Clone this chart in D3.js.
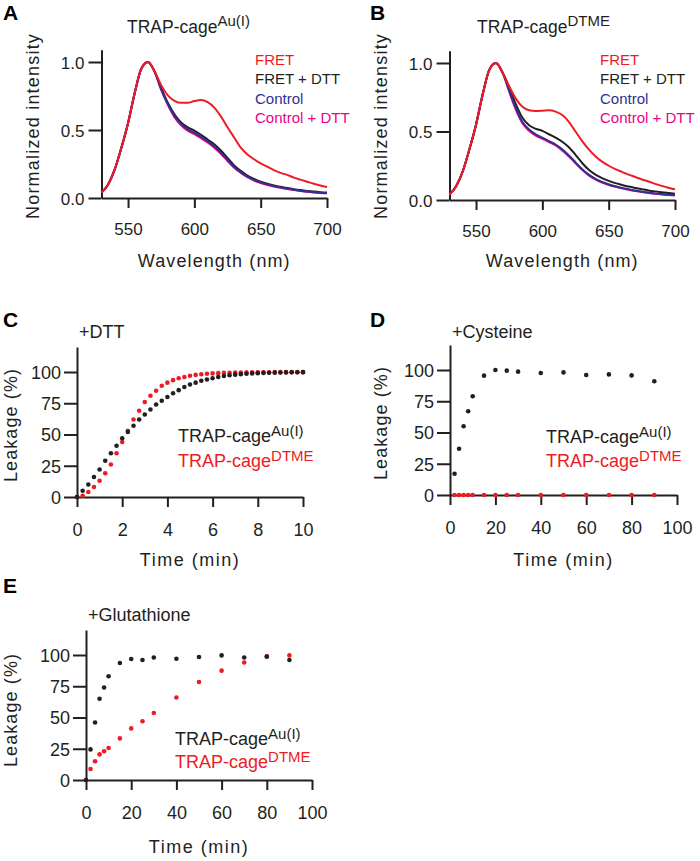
<!DOCTYPE html>
<html><head><meta charset="utf-8">
<script src="https://cdn.jsdelivr.net/npm/d3@7"></script>
<style>body{margin:0;background:#fff}</style>
</head><body><svg id="c" width="700" height="861"></svg>
<script>
// ---------------- DATA ----------------
const wavelengths = [530,535,540,545,550,555,560,565,570,575,580,585,590,595,600,605,610,615,620,625,630,635,640,645,650,655,660,665,670,675,680,685,690,695,700];

const specA_FRET      = [0.04,0.10,0.21,0.37,0.55,0.77,0.95,1.00,0.93,0.83,0.755,0.715,0.70,0.70,0.713,0.72,0.705,0.665,0.60,0.52,0.445,0.37,0.32,0.285,0.255,0.23,0.205,0.185,0.17,0.15,0.135,0.12,0.105,0.092,0.08];
const specA_FRETDTT   = [0.04,0.10,0.21,0.37,0.55,0.77,0.95,1.00,0.93,0.81,0.70,0.615,0.555,0.52,0.495,0.465,0.43,0.395,0.35,0.295,0.24,0.20,0.165,0.14,0.12,0.105,0.092,0.082,0.073,0.065,0.058,0.052,0.047,0.043,0.04];
const specA_Control   = [0.04,0.10,0.21,0.37,0.55,0.77,0.95,1.00,0.93,0.80,0.69,0.605,0.545,0.505,0.48,0.45,0.418,0.38,0.335,0.28,0.228,0.19,0.158,0.133,0.115,0.10,0.088,0.078,0.069,0.061,0.054,0.048,0.043,0.039,0.036];
const specA_ControlDTT= [0.04,0.10,0.21,0.37,0.55,0.77,0.95,1.00,0.93,0.795,0.685,0.595,0.535,0.495,0.47,0.44,0.408,0.37,0.325,0.272,0.222,0.185,0.153,0.128,0.11,0.096,0.085,0.075,0.066,0.058,0.051,0.046,0.041,0.037,0.034];

const specB_FRET      = [0.04,0.10,0.21,0.37,0.55,0.77,0.95,1.00,0.93,0.83,0.74,0.68,0.655,0.65,0.652,0.655,0.645,0.62,0.57,0.50,0.43,0.37,0.32,0.28,0.25,0.225,0.205,0.185,0.168,0.15,0.135,0.118,0.103,0.09,0.078];
const specB_FRETDTT   = [0.04,0.10,0.21,0.37,0.55,0.77,0.95,1.00,0.93,0.82,0.70,0.60,0.545,0.52,0.505,0.48,0.455,0.425,0.385,0.33,0.27,0.22,0.185,0.16,0.14,0.123,0.11,0.098,0.088,0.079,0.07,0.063,0.057,0.051,0.046];
const specB_Control   = [0.04,0.10,0.21,0.37,0.55,0.77,0.95,1.00,0.93,0.80,0.67,0.57,0.515,0.48,0.455,0.43,0.405,0.37,0.325,0.275,0.225,0.185,0.155,0.132,0.115,0.10,0.088,0.078,0.069,0.061,0.054,0.048,0.043,0.039,0.036];
const specB_ControlDTT= [0.04,0.10,0.21,0.37,0.55,0.77,0.95,1.00,0.93,0.79,0.66,0.56,0.505,0.47,0.448,0.423,0.398,0.362,0.318,0.268,0.22,0.18,0.15,0.127,0.11,0.096,0.085,0.075,0.066,0.058,0.051,0.045,0.04,0.036,0.032];

const spectrumLabels = ["FRET","FRET + DTT","Control","Control + DTT"];
const spectrumXTicks = [550,600,650,700];
const spectrumYTicks = [0,0.5,1.0];

// Panel C: +DTT
const dttTime = [0,0.25,0.5,0.75,1,1.25,1.5,1.75,2,2.25,2.5,2.75,3,3.25,3.5,3.75,4,4.25,4.5,4.75,5,5.25,5.5,5.75,6,6.25,6.5,6.75,7,7.25,7.5,7.75,8,8.25,8.5,8.75,9,9.25,9.5,9.75,10];
const dttAu   = [0,5,10,16,22,29,35,41,47,52,57,62,66,70,74,77,80,83,85.5,88,90,91.5,93,94,95,96,96.8,97.4,97.9,98.3,98.6,98.9,99.1,99.3,99.4,99.5,99.6,99.7,99.8,99.8,99.9];
const dttDTME = [0,1,4,8,13,19,26,35,44,53,62,69,76,81,85,89,91.5,93.5,95,96,97,97.7,98.2,98.6,98.9,99.1,99.3,99.4,99.5,99.6,99.7,99.7,99.8,99.8,99.8,99.9,99.9,99.9,99.9,99.9,99.9];

// Panel D: +Cysteine
const cysTime = [2,4,6,8,10,15,20,25,30,40,50,60,70,80,90];
const cysAu   = [17,37,55,67,79,95.5,100,99.5,98.7,97.6,98.1,96,96.5,95.7,91];
const cysDTME = [0,0,0,0,0,0,0,0,0,0,0,0,0,0,0];

// Panel E: +Glutathione
const gshTime = [0,2,4,6,8,10,15,20,25,30,40,50,60,70,80,90];
const gshAu   = [0,24.5,46,65,74,83,93.6,96.8,96,98,97,98.4,99.7,98,98.7,96];
const gshDTME = [0,8.8,15,20.5,23,25.6,33.3,41.3,47,53.6,66,78.4,87.5,94,99,99.7];

const leakYTicks = [0,25,50,75,100];
const dttXTicks = [0,2,4,6,8,10];
const longXTicks = [0,20,40,60,80,100];

// ---------------- DRAWING ----------------
const FONT = "'Liberation Sans', Arial, Helvetica, sans-serif";
const INK = "#231f20";
const RED = "#ed1c24";
const BLUE = "#2e3192";
const MAGENTA = "#ec008c";
const svg = d3.select("#c").attr("font-family", FONT);

function styleAxis(g, size) {
  g.select(".domain").attr("stroke", INK).attr("stroke-width", 2);
  g.selectAll(".tick line").attr("stroke", INK).attr("stroke-width", 2);
  g.selectAll(".tick text").attr("fill", INK).attr("font-family", FONT)
    .style("font-size", size + "px");
}

function supText(x, y, base, sup, color, size, supSize, raise, anchor) {
  const t = svg.append("text").attr("x", x).attr("y", y).attr("fill", color)
    .style("font-size", size + "px");
  if (anchor) t.attr("text-anchor", anchor);
  t.append("tspan").text(base);
  t.append("tspan").attr("dy", -raise).style("font-size", supSize + "px").text(sup);
  return t;
}

function plainText(x, y, s, opts = {}) {
  const t = svg.append("text").attr("x", x).attr("y", y).text(s)
    .attr("fill", opts.color || INK)
    .style("font-size", (opts.size || 17) + "px");
  if (opts.anchor) t.attr("text-anchor", opts.anchor);
  if (opts.weight) t.attr("font-weight", opts.weight);
  if (opts.ls) t.style("letter-spacing", opts.ls + "px");
  if (opts.rotate) t.attr("transform", `rotate(-90,${x},${y})`);
  return t;
}

function spectrumPanel(cfg) {
  const x = d3.scaleLinear().domain([530, 700]).range([cfg.x0, cfg.x1]);
  const y = d3.scaleLinear().domain([0, 1.09]).range([cfg.yb, cfg.yb - 1.09 * cfg.unit]);
  const gx = svg.append("g").attr("transform", `translate(0,${cfg.yb})`)
    .call(d3.axisBottom(x).tickValues(spectrumXTicks).tickSize(10).tickSizeOuter(0).tickPadding(15).tickFormat(d3.format("d")));
  styleAxis(gx, 17);
  const gy = svg.append("g").attr("transform", `translate(${cfg.x0},0)`)
    .call(d3.axisLeft(y).tickValues(spectrumYTicks).tickSize(13).tickSizeOuter(0).tickPadding(4).tickFormat(d3.format(".1f")));
  styleAxis(gy, 17);
  gy.selectAll(".tick text").attr("dy", "0.36em");
  const line = d3.line().x((d, i) => x(wavelengths[i])).y(d => y(d)).curve(d3.curveMonotoneX);
  const order = [[cfg.series[1], INK], [cfg.series[3], MAGENTA], [cfg.series[2], BLUE], [cfg.series[0], RED]];
  order.forEach(([s, c]) => {
    svg.append("path").datum(s).attr("d", line).attr("fill", "none")
      .attr("stroke", c).attr("stroke-width", 2).attr("stroke-linejoin", "round");
  });
  const lc = [RED, INK, BLUE, MAGENTA];
  spectrumLabels.forEach((l, i) => plainText(cfg.legX, cfg.legY + i * 19.3, l, { color: lc[i], size: 15 }));
  plainText(cfg.letterX, 20, cfg.letter, { size: 21, weight: "bold", color: "#000" });
  supText(cfg.titleX, 33, "TRAP-cage", cfg.sup, INK, 17.5, 15, 7);
  plainText(cfg.ytX, 126, "Normalized intensity", { size: 18, ls: 1.2, anchor: "middle", rotate: true });
  plainText((cfg.x0 + cfg.x1) / 2, 267, "Wavelength (nm)", { size: 18, ls: 1.1, anchor: "middle" });
}

spectrumPanel({ x0: 101.5, x1: 327, yb: 198, unit: 136, series: [specA_FRET, specA_FRETDTT, specA_Control, specA_ControlDTT],
  legX: 255, legY: 65, letter: "A", letterX: 3, titleX: 127, sup: "Au(I)", ytX: 39 });
spectrumPanel({ x0: 449.5, x1: 675, yb: 200, unit: 137, series: [specB_FRET, specB_FRETDTT, specB_Control, specB_ControlDTT],
  legX: 600, legY: 65, letter: "B", letterX: 370, titleX: 477, sup: "DTME", ytX: 387 });

function leakPanel(cfg) {
  const x = d3.scaleLinear().domain([0, cfg.xmax]).range([cfg.x0, cfg.x1]);
  const y = d3.scaleLinear().domain([0, 120]).range([cfg.yb, cfg.yb - 150]);
  const gx = svg.append("g").attr("transform", `translate(0,${cfg.yb})`)
    .call(d3.axisBottom(x).tickValues(cfg.xticks).tickSize(10).tickSizeOuter(0).tickPadding(16).tickFormat(d3.format("d")));
  styleAxis(gx, 18);
  const gy = svg.append("g").attr("transform", `translate(${cfg.x0},0)`)
    .call(d3.axisLeft(y).tickValues(leakYTicks).tickSize(13).tickSizeOuter(0).tickPadding(3).tickFormat(d3.format("d")));
  styleAxis(gy, 18);
  gy.selectAll(".tick text").attr("dy", "0.36em");
  const gd = svg.append("g");
  gd.selectAll("circle.r").data(cfg.time).enter().append("circle")
    .attr("cx", d => x(d)).attr("cy", (d, i) => y(cfg.dtme[i])).attr("r", 2.3).attr("fill", RED);
  gd.selectAll("circle.k").data(cfg.time).enter().append("circle")
    .attr("cx", d => x(d)).attr("cy", (d, i) => y(cfg.au[i])).attr("r", 2.3).attr("fill", INK);
  supText(cfg.legX, cfg.legY, "TRAP-cage", "Au(I)", INK, 18, 15, 6);
  supText(cfg.legX, cfg.legY + cfg.legDy, "TRAP-cage", "DTME", RED, 18, 15, 6);
  plainText(cfg.letterX, cfg.letterY, cfg.letter, { size: 21, weight: "bold", color: "#000" });
  plainText(cfg.x0 + 2, cfg.titleY, cfg.title, { size: 18 });
  plainText(cfg.ytX, cfg.yb - 75 + cfg.ytOff, "Leakage (%)", { size: 18, ls: 1.1, anchor: "middle", rotate: true });
  plainText((cfg.x0 + cfg.x1) / 2, cfg.xtY, "Time (min)", { size: 18, ls: 1.5, anchor: "middle" });
}

leakPanel({ xmax: 10, x0: 77, x1: 303, yb: 497, xticks: dttXTicks, time: dttTime, au: dttAu, dtme: dttDTME,
  legX: 178, legY: 442, legDy: 25, letter: "C", letterX: 3, letterY: 327, title: "+DTT", titleY: 338, ytX: 17, ytOff: 3, xtY: 566 });
leakPanel({ xmax: 100, x0: 450, x1: 677, yb: 495, xticks: longXTicks, time: cysTime, au: cysAu, dtme: cysDTME,
  legX: 546, legY: 443, legDy: 24, letter: "D", letterX: 370, letterY: 327, title: "+Cysteine", titleY: 338, ytX: 387, ytOff: 3, xtY: 566 });
leakPanel({ xmax: 100, x0: 86, x1: 312, yb: 780, xticks: longXTicks, time: gshTime, au: gshAu, dtme: gshDTME,
  legX: 175, legY: 745, legDy: 23, letter: "E", letterX: 3, letterY: 593, title: "+Glutathione", titleY: 621, ytX: 17, ytOff: 5, xtY: 853 });
</script>
</body></html>
